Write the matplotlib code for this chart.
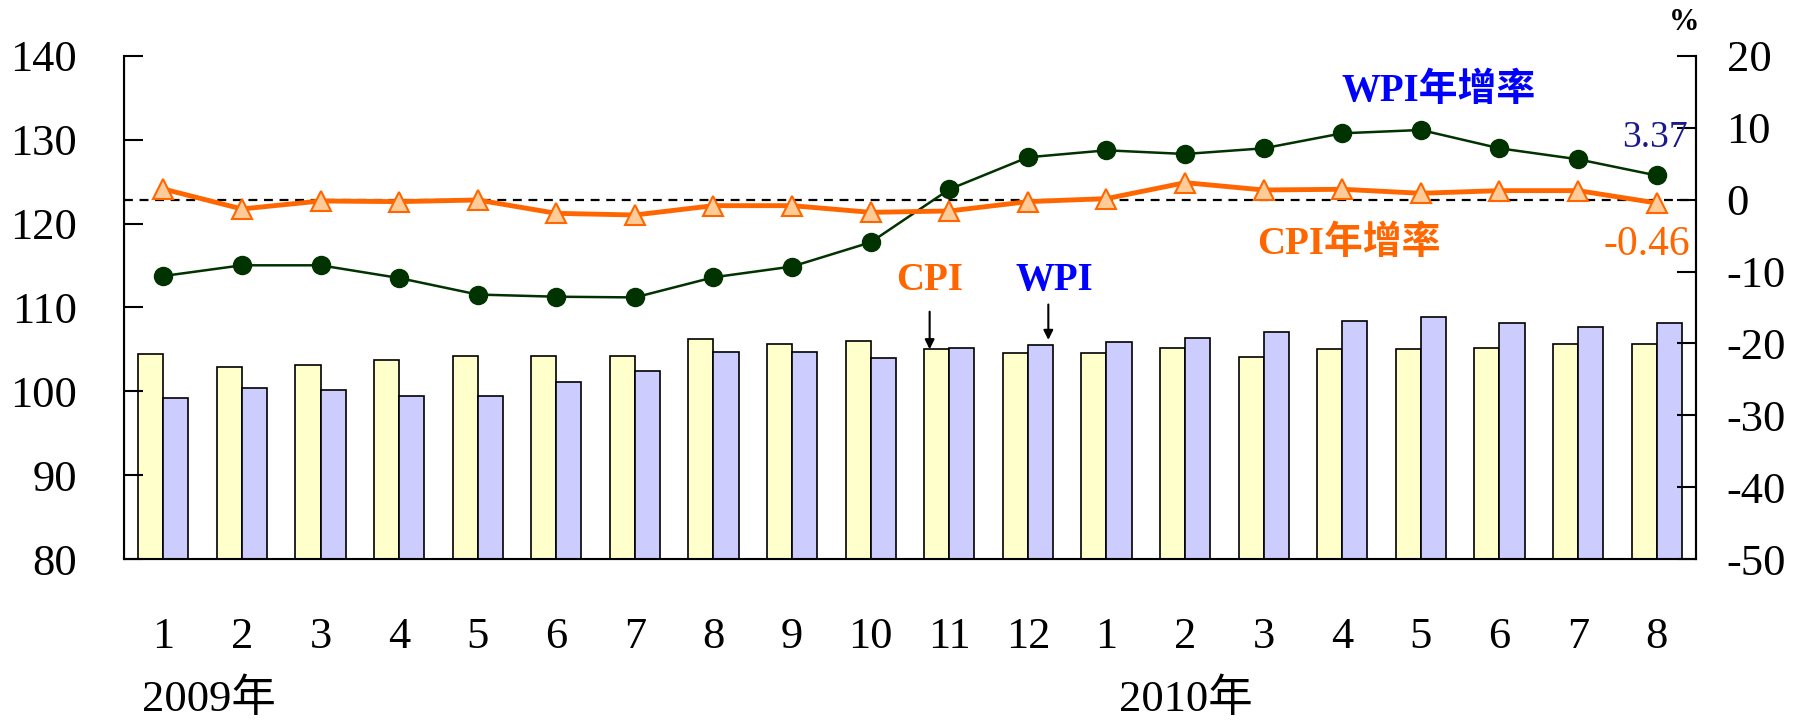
import numpy as np
import matplotlib
matplotlib.use("Agg")
import matplotlib.pyplot as plt

plt.rcParams["font.family"] = ["Liberation Serif", "Noto Sans CJK TC"]
plt.rcParams["axes.unicode_minus"] = False

# months, 2009/1 .. 2010/8
month_labels = ["1", "2", "3", "4", "5", "6", "7", "8", "9", "10", "11", "12",
                "1", "2", "3", "4", "5", "6", "7", "8"]

# price indices (left axis)
cpi_index = [104.46, 102.85, 103.09, 103.78, 104.22, 104.22, 104.22, 106.22, 105.62, 106.02,
             105.0, 104.56, 104.56, 105.2, 104.13, 105.0, 105.0, 105.2, 105.67, 105.67]
wpi_index = [99.24, 100.40, 100.16, 99.48, 99.48, 101.08, 102.45, 104.70, 104.70, 103.98,
             105.16, 105.48, 105.91, 106.39, 107.02, 108.37, 108.85, 108.13, 107.70, 108.13]

# annual growth rates % (right axis)
cpi_yoy = [1.49, -1.29, -0.18, -0.27, -0.04, -1.90, -2.13, -0.83, -0.83, -1.76,
           -1.57, -0.27, 0.15, 2.37, 1.35, 1.45, 0.89, 1.26, 1.26, -0.46]
wpi_yoy = [-10.62, -9.13, -9.13, -10.90, -13.20, -13.50, -13.60, -10.80, -9.30, -5.93,
           1.44, 5.90, 6.87, 6.36, 7.15, 9.24, 9.70, 7.15, 5.62, 3.37]

x = np.arange(len(month_labels))
w = 0.32

fig = plt.figure(figsize=(18.05, 7.24), dpi=100)
ax = fig.add_axes([0.0687, 0.2279, 0.8709, 0.6948])

ax.bar(x - w / 2, np.array(cpi_index) - 80, w, bottom=80, color="#FFFFCC",
       edgecolor="black", linewidth=1.2)
ax.bar(x + w / 2, np.array(wpi_index) - 80, w, bottom=80, color="#CCCCFF",
       edgecolor="black", linewidth=1.2)

ax.set_xlim(-0.5, len(month_labels) - 0.5)
ax.set_ylim(80, 140)
ax.set_yticks(range(80, 141, 10))
ax.set_xticks(x)
ax.set_xticklabels(month_labels)
ax.tick_params(axis="y", direction="in", length=14, width=1.5, labelsize=32, pad=34)
ax.tick_params(axis="x", length=0, labelsize=32, pad=42)
ax.spines["top"].set_visible(False)
for s in ["left", "right", "bottom"]:
    ax.spines[s].set_linewidth(1.5)

ax2 = ax.twinx()
ax2.set_ylim(-50, 20)
ax2.set_yticks(range(-50, 21, 10))
ax2.tick_params(axis="y", direction="in", length=14, width=1.5, labelsize=32, pad=22)
ax2.spines["top"].set_visible(False)
ax2.spines["right"].set_linewidth(1.5)

ax2.axhline(0, color="black", linestyle=(0, (4, 3)), linewidth=1.6)
ax2.plot(x, wpi_yoy, color="#003300", linewidth=1.8, marker="o", markersize=13,
         markerfacecolor="#003300", markeredgecolor="#003300")
ax2.plot(x, cpi_yoy, color="#FF6600", linewidth=3.5, marker="^", markersize=15,
         markerfacecolor="#FFCC99", markeredgecolor="#FF6600", markeredgewidth=1.5)

# annotations
ax2.text(16.23, 15.0, "WPI年增率", color="#0000FF", fontsize=28, fontweight="bold",
         ha="center", va="center")
ax2.text(19.4, 8.6, "3.37", color="#1A1A8C", fontsize=27, ha="right", va="center")
ax2.text(15.09, -6.3, "CPI年增率", color="#FF6600", fontsize=28, fontweight="bold",
         ha="center", va="center")
ax2.text(19.42, -6.3, "-0.46", color="#FF6600", fontsize=30, ha="right", va="center")
ax2.text(19.35, 24.6, "%", fontsize=22, fontweight="bold", ha="center", va="center",
         clip_on=False)

ax2.text(9.75, -11.2, "CPI", color="#FF6600", fontsize=28, fontweight="bold",
         ha="center", va="center")
ax2.annotate("", xy=(9.75, -21.2), xytext=(9.75, -15.2),
             arrowprops=dict(arrowstyle="-|>", color="black", lw=1.5, mutation_scale=14))
ax2.text(11.33, -11.2, "WPI", color="#0000FF", fontsize=28, fontweight="bold",
         ha="center", va="center")
ax2.annotate("", xy=(11.26, -19.9), xytext=(11.26, -14.2),
             arrowprops=dict(arrowstyle="-|>", color="black", lw=1.5, mutation_scale=14))

# year labels
trans = ax.get_xaxis_transform()
ax.text(-0.27, -0.278, "2009年", transform=trans, fontsize=32, ha="left", va="center")
ax.text(12.16, -0.278, "2010年", transform=trans, fontsize=32, ha="left", va="center")

plt.savefig("out.png", dpi=100)
